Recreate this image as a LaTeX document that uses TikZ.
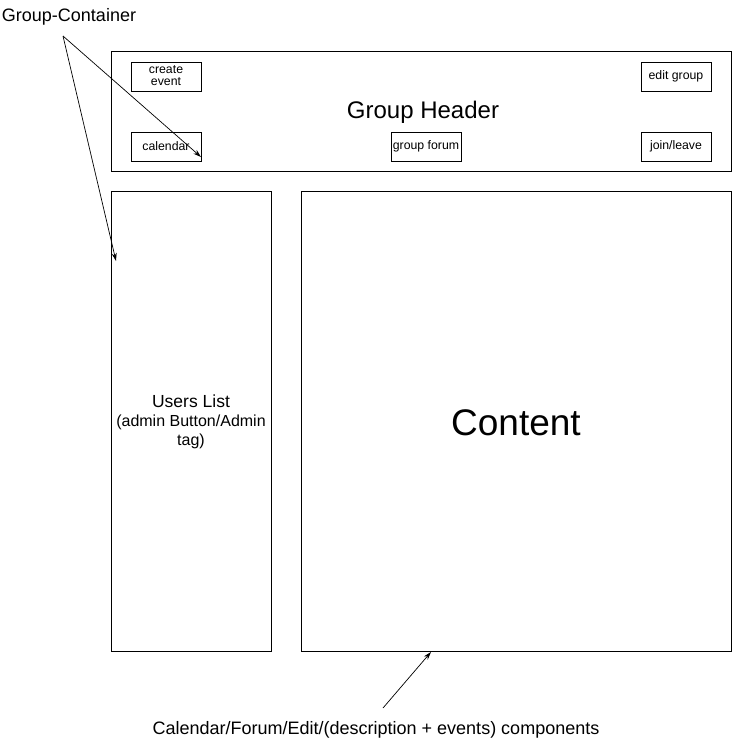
\documentclass[tikz,border=0pt]{standalone}
\usepackage{fontspec}
\setmainfont{Liberation Sans}
\usetikzlibrary{arrows.meta}
\begin{document}
\begin{tikzpicture}[x=1pt,y=-1pt,
  box/.style={draw,line width=0.9pt},
  btn/.style={draw,line width=0.9pt,minimum width=70pt,minimum height=29pt,inner sep=0pt,font=\fontsize{12.3}{14}\selectfont},
  lbl/.style={font=\fontsize{18}{21}\selectfont,align=center,inner sep=0pt},
  arr/.style={line width=0.7pt,-{Stealth[length=8pt,width=5pt]}}]
\useasboundingbox (0,0) rectangle (733,740);
\draw[box] (111,51) rectangle (731,171);
\node[btn] (create) at (166,76.5) {\raisebox{-1pt}{\begin{tabular}{@{}c@{}}create\\[-1.5pt]event\end{tabular}}};
\node[btn] (edit) at (676,76.5) {\raisebox{-1pt}{edit group}};
\node[btn] (cal) at (166,146.5) {\raisebox{-1pt}{calendar}};
\node[btn] (forum) at (426,146.5) {\raisebox{-1pt}{group forum}};
\node[btn] (join) at (676,146.5) {\raisebox{-1pt}{join/leave}};
\node[font=\fontsize{24}{28}\selectfont] (gh) at (423,112) {Group Header};
\draw[box] (111,191) rectangle (271,651);
\draw[box] (301,191) rectangle (731,651);
\node[lbl,font=\fontsize{17.5}{19}\selectfont] (users) at (191,422) {Users List\\{\fontsize{16}{19}\selectfont (admin Button/Admin}\\{\fontsize{16}{19}\selectfont tag)}};
\node[font=\fontsize{37}{42}\selectfont] (content) at (516,423) {Content};
\node[lbl] (gc) at (69,17) {Group-Container};
\node[lbl] (comp) at (376,730) {Calendar/Forum/Edit/(description + events) components};
\coordinate (gcp) at (63,36);
\coordinate (calp) at (201,157);
\coordinate (usp) at (116,261);
\coordinate (ctail) at (383,708);
\coordinate (chead) at (431,652);
\draw[arr] (gcp) -- (calp);
\draw[arr] (gcp) -- (usp);
\draw[arr] (ctail) -- (chead);
\end{tikzpicture}
\end{document}
